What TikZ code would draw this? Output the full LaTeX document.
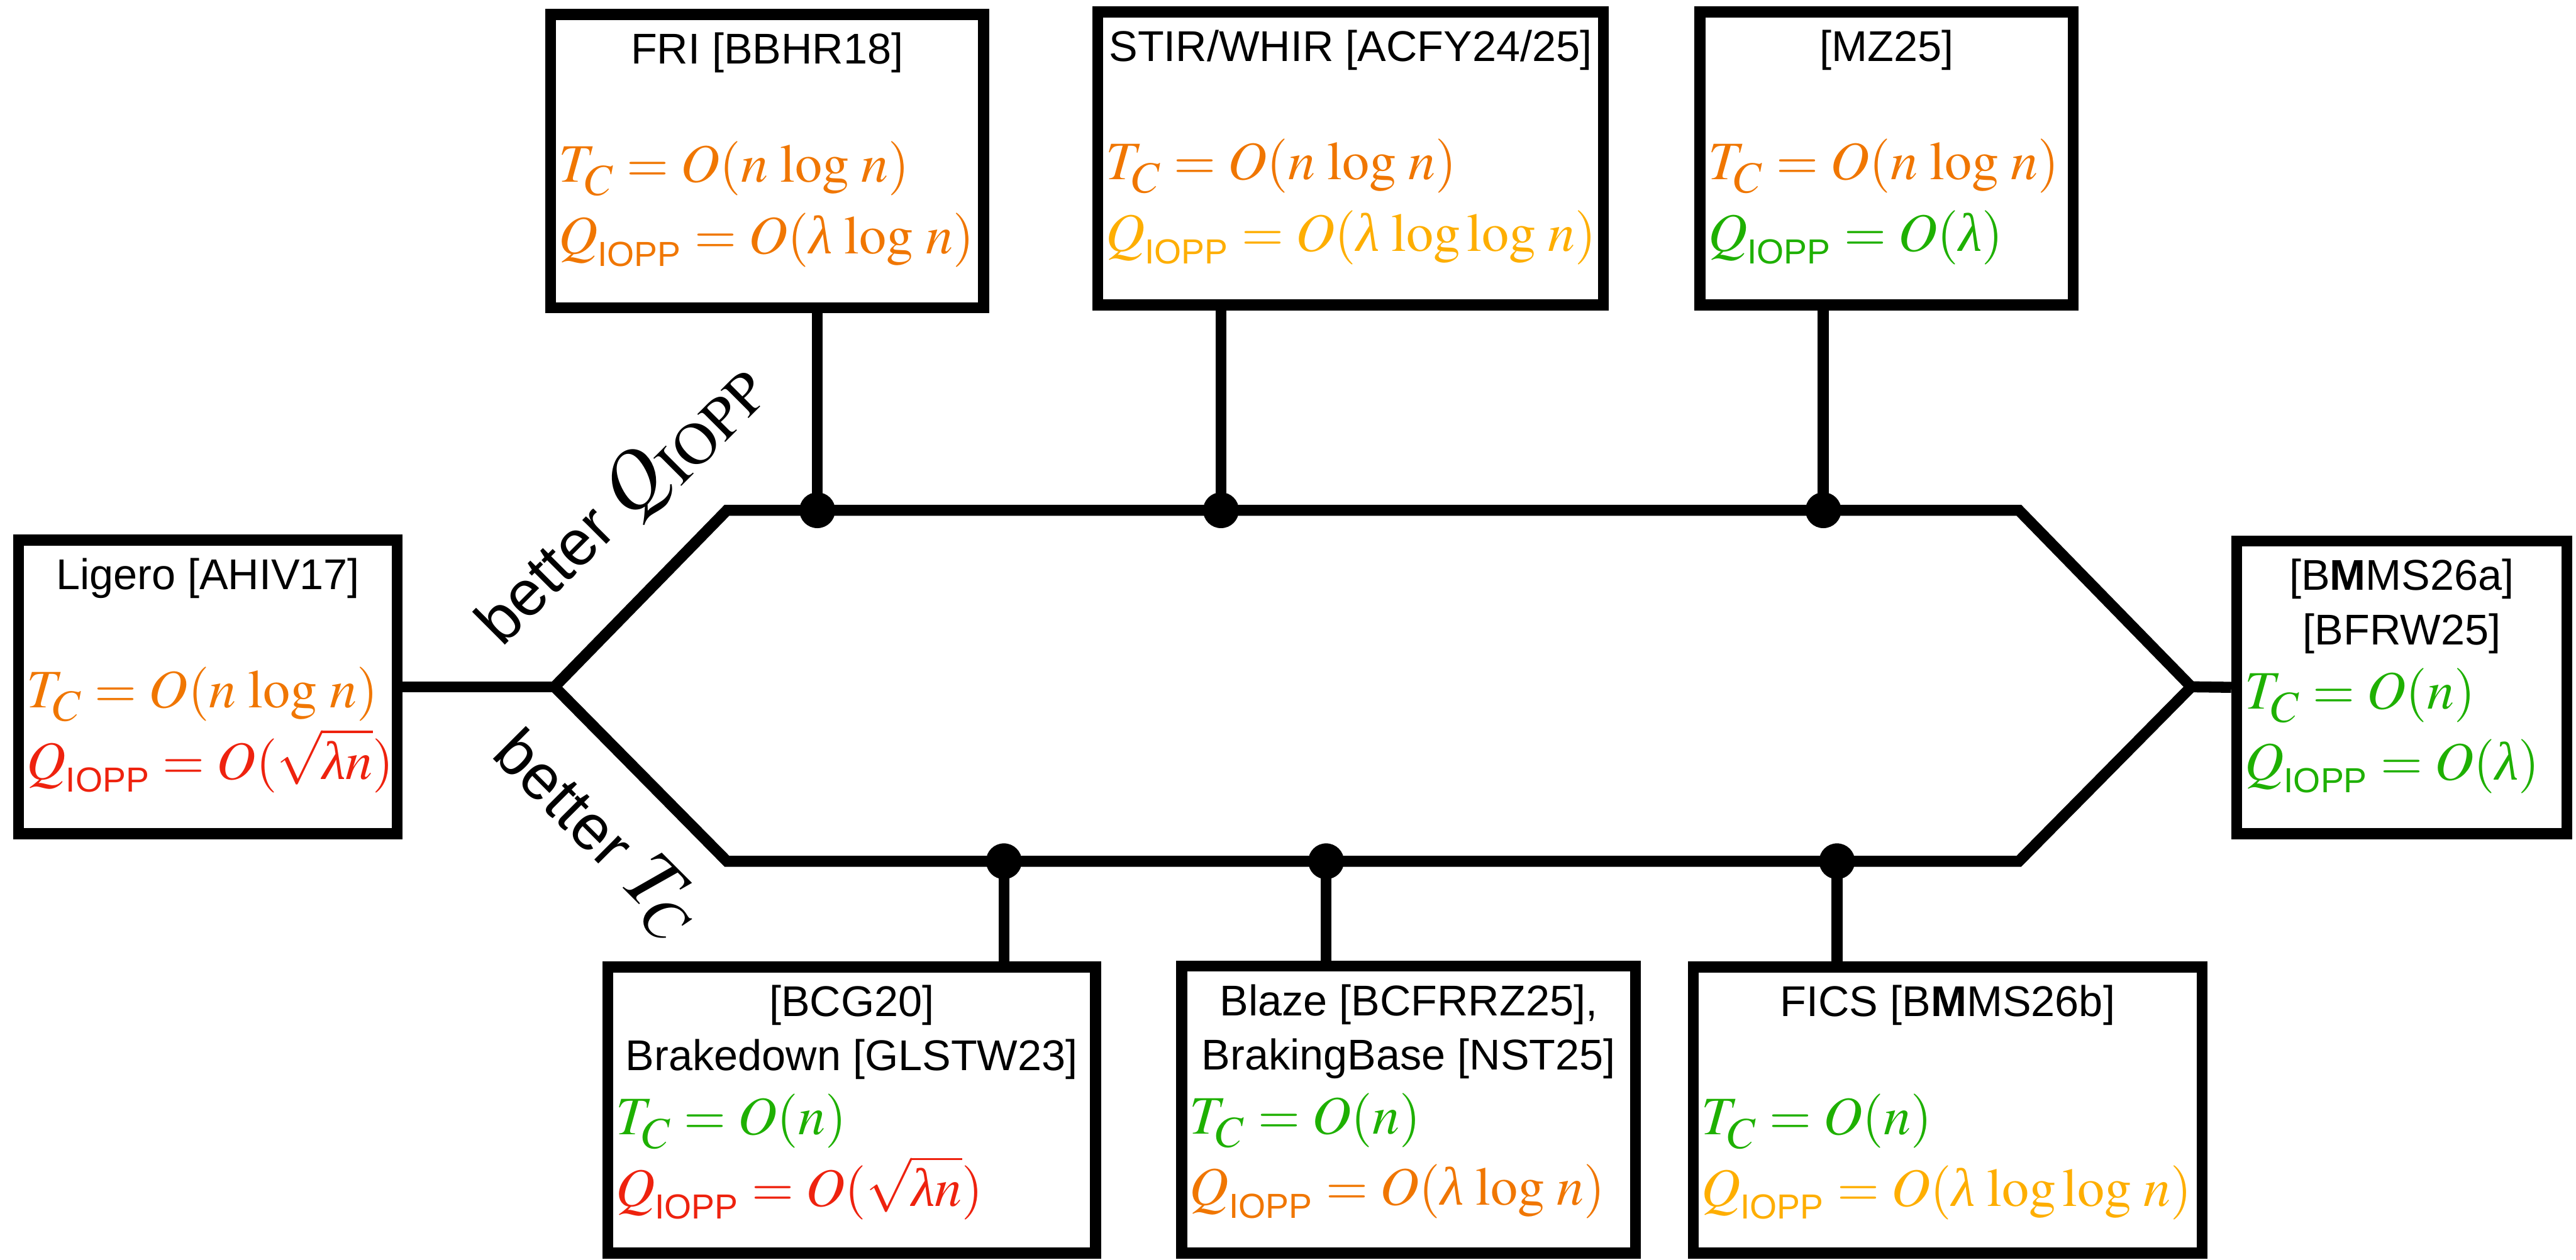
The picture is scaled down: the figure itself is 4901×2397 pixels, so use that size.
\documentclass[tikz,border=0pt]{standalone}
\usepackage{mathptmx}
\usepackage[no-math]{fontspec}
\setmainfont{Liberation Sans}
\setsansfont{Liberation Sans}
\newfontfamily\libserif{Liberation Serif}
\usetikzlibrary{calc}

\definecolor{cOrange}{RGB}{240,118,0}
\definecolor{cYellow}{RGB}{254,174,0}
\definecolor{cGreen}{RGB}{30,176,0}
\definecolor{cRed}{RGB}{238,34,14}

% cost symbols
\newcommand\subIOPP{\raisebox{-1.4pt}{\fontsize{10.6}{12}\selectfont IOPP}}
\newcommand\subC{\raisebox{-1.6pt}{\fontsize{13.5}{15}\selectfont$C$}}
\newcommand\TC{T_{\subC}}
\newcommand\QI{Q_{\subIOPP}}
\newcommand\lam{\mbox{\libserif\itshape λ}}
\newcommand\slog{\mskip2mu\log\mskip2mu}
\newcommand\sloglog{\mskip2mu\log\log\mskip2mu}

\tikzset{
  refbox/.style={draw, line width=3.36pt, inner sep=0pt, fill=white},
  headline/.style={inner sep=0pt, anchor=base, font=\fontsize{13.1}{16.5}\selectfont},
  formula/.style={inner sep=0pt, anchor=base west, font=\fontsize{16.5}{20}\selectfont},
  wire/.style={line width=3.36pt},
  joint/.style={circle, fill=black, inner sep=0pt, minimum size=10.9pt},
  axislabel/.style={inner sep=0pt, anchor=base, font=\fontsize{19.5}{24}\selectfont},
}

\begin{document}
\begin{tikzpicture}[x=0.16pt, y=-0.16pt]
\useasboundingbox (0,0) rectangle (4901,2397);

% hexagon corners
\coordinate (hl)  at (1055,1307);
\coordinate (htl) at (1383,971);
\coordinate (htr) at (3841,971);
\coordinate (hr)  at (4169,1307);
\coordinate (hbr) at (3841,1639);
\coordinate (hbl) at (1383,1639);

% attachment points on the hexagon
\coordinate (t1) at (1555,971);
\coordinate (t2) at (2323,971);
\coordinate (t3) at (3469,971);
\coordinate (b1) at (1910,1639);
\coordinate (b2) at (2523,1639);
\coordinate (b3) at (3495,1639);

\draw[wire] (hl) -- (htl) -- (htr) -- (hr) -- (hbr) -- (hbl) -- cycle;

% boxes
\node[refbox, minimum width=131.84pt, minimum height=89.28pt] (fri)    at (1459.5,306.5) {};
\node[refbox, minimum width=153.92pt, minimum height=89.28pt] (stir)   at (2569.5,301.5) {};
\node[refbox, minimum width=113.6pt,  minimum height=89.28pt] (mz)     at (3589.5,301.5) {};
\node[refbox, minimum width=115.2pt,  minimum height=89.44pt] (ligero) at (395.5,1307) {};
\node[refbox, minimum width=100.48pt, minimum height=89.12pt] (bmmsa)  at (4569.5,1308) {};
\node[refbox, minimum width=148.48pt, minimum height=87.04pt] (bcg)    at (1620.5,2112.5) {};
\node[refbox, minimum width=138.08pt, minimum height=87.36pt] (blaze)  at (2680,2111.5) {};
\node[refbox, minimum width=154.88pt, minimum height=87.04pt] (fics)   at (3705.5,2112.5) {};

% connectors
\draw[wire] (fri.south -| t1) -- (t1);
\draw[wire] (stir.south -| t2) -- (t2);
\draw[wire] (mz.south -| t3) -- (t3);
\draw[wire] (bcg.north -| b1) -- (b1);
\draw[wire] (blaze.north -| b2) -- (b2);
\draw[wire] (fics.north -| b3) -- (b3);
\draw[wire] (ligero.east) -- (hl);
\draw[wire] (hr) -- (bmmsa.west);

\foreach \p in {t1,t2,t3,b1,b2,b3} \node[joint] (j-\p) at (\p) {};

% FRI
\node[headline] (fri-h) at ($(fri.north)+(0,104.5)$) {FRI [BBHR18]};
\node[formula, text=cOrange] (fri-t) at ($(fri.north west)+(24.5,329.5)$) {$\TC=O(n\slog n)$};
\node[formula, text=cOrange] (fri-q) at ($(fri.north west)+(24.5,465.5)$) {$\QI=O(\lam\slog n)$};

% STIR/WHIR
\node[headline] (stir-h) at ($(stir.north)+(0,104.5)$) {STIR/WHIR [ACFY24/25]};
\node[formula, text=cOrange] (stir-t) at ($(stir.north west)+(24.5,329.5)$) {$\TC=O(n\slog n)$};
\node[formula, text=cYellow] (stir-q) at ($(stir.north west)+(24.5,465.5)$) {$\QI=O(\lam\sloglog n)$};

% MZ25
\node[headline] (mz-h) at ($(mz.north)+(0,104.5)$) {[MZ25]};
\node[formula, text=cOrange] (mz-t) at ($(mz.north west)+(24.5,329.5)$) {$\TC=O(n\slog n)$};
\node[formula, text=cGreen] (mz-q) at ($(mz.north west)+(24.5,465.5)$) {$\QI=O(\lam)$};

% Ligero
\node[headline] (ligero-h) at ($(ligero.north)+(0,104.5)$) {Ligero [AHIV17]};
\node[formula, text=cOrange] (ligero-t) at ($(ligero.north west)+(24.5,329.5)$) {$\TC=O(n\slog n)$};
\node[formula, text=cRed] (ligero-q) at ($(ligero.north west)+(24.5,465.5)$) {$\QI=O(\sqrt{\lam n})$};

% BMMS26a / BFRW25
\node[headline] (bmmsa-h1) at ($(bmmsa.north)+(0,104.5)$) {[B\textbf{M}MS26a]};
\node[headline] (bmmsa-h2) at ($(bmmsa.north)+(0,207.5)$) {[BFRW25]};
\node[formula, text=cGreen] (bmmsa-t) at ($(bmmsa.north west)+(24.5,329.5)$) {$\TC=O(n)$};
\node[formula, text=cGreen] (bmmsa-q) at ($(bmmsa.north west)+(24.5,465.5)$) {$\QI=O(\lam)$};

% BCG20 / Brakedown
\node[headline] (bcg-h1) at ($(bcg.north)+(0,104.5)$) {[BCG20]};
\node[headline] (bcg-h2) at ($(bcg.north)+(0,207.5)$) {Brakedown [GLSTW23]};
\node[formula, text=cGreen] (bcg-t) at ($(bcg.north west)+(24.5,329.5)$) {$\TC=O(n)$};
\node[formula, text=cRed] (bcg-q) at ($(bcg.north west)+(24.5,465.5)$) {$\QI=O(\sqrt{\lam n})$};

% Blaze / BrakingBase
\node[headline] (blaze-h1) at ($(blaze.north)+(0,104.5)$) {Blaze [BCFRRZ25],};
\node[headline] (blaze-h2) at ($(blaze.north)+(0,207.5)$) {BrakingBase [NST25]};
\node[formula, text=cGreen] (blaze-t) at ($(blaze.north west)+(24.5,329.5)$) {$\TC=O(n)$};
\node[formula, text=cOrange] (blaze-q) at ($(blaze.north west)+(24.5,465.5)$) {$\QI=O(\lam\slog n)$};

% FICS
\node[headline] (fics-h) at ($(fics.north)+(0,104.5)$) {FICS [B\textbf{M}MS26b]};
\node[formula, text=cGreen] (fics-t) at ($(fics.north west)+(24.5,329.5)$) {$\TC=O(n)$};
\node[formula, text=cYellow] (fics-q) at ($(fics.north west)+(24.5,465.5)$) {$\QI=O(\lam\sloglog n)$};

% axis labels along the left edges
\node[axislabel, rotate=45]  (lbl-q) at (1205,984)  {better \fontsize{24.5}{28}\selectfont$Q_{\mathrm{IOPP}}$};
\node[axislabel, rotate=-45] (lbl-t) at (1108,1614) {better \fontsize{24.5}{28}\selectfont$T_C$};
\end{tikzpicture}
\end{document}
